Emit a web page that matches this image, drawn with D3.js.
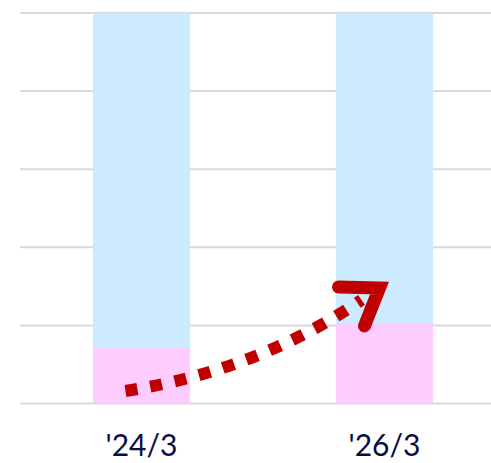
<!DOCTYPE html>
<html>
<head>
<meta charset="utf-8">
<script src="https://cdn.jsdelivr.net/npm/d3@7"></script>
<style>
  body { margin: 0; background: #fff; }
  svg { display: block; }
</style>
</head>
<body>
<svg width="491" height="463"></svg>
<script>
// chart data
var categories = ["'24/3", "'26/3"];
var pinkValues = [0.71, 1.03];
var blueValues = [4.29, 3.97];
var yTicks = [0, 1, 2, 3, 4, 5];

// annotation arrow, in data units (category + value)
var arrowFrom = {cat: "'24/3", dx: -16, value: 0.16};
var arrowVia  = {cat: "'24/3", dx: 118, value: 0.43};
var arrowTo   = {cat: "'26/3", dx: -5, value: 1.48};

var svg = d3.select("svg");
var width = +svg.attr("width");
var height = +svg.attr("height");

var margin = {top: 13, left: 20, bottom: 59.5};

var x = d3.scaleBand()
    .domain(categories)
    .range([margin.left, 506])
    .paddingInner(0.6)
    .paddingOuter(0.3);

var y = d3.scaleLinear()
    .domain([0, 5])
    .range([height - margin.bottom, margin.top]);

// gridlines
svg.append("g")
    .selectAll("line")
    .data(yTicks)
    .enter().append("line")
        .attr("x1", margin.left)
        .attr("x2", width)
        .attr("y1", function(d) { return y(d); })
        .attr("y2", function(d) { return y(d); })
        .attr("stroke", "#d9d9d9")
        .attr("stroke-width", 2);

// stacked bars
var stackData = categories.map(function(c, i) {
    return {cat: c, pink: pinkValues[i], blue: blueValues[i]};
});
var series = d3.stack().keys(["pink", "blue"])(stackData);
var colors = {pink: "#ffccff", blue: "#cdebff"};

svg.append("g")
    .selectAll("g")
    .data(series)
    .enter().append("g")
        .attr("fill", function(s) { return colors[s.key]; })
    .selectAll("rect")
    .data(function(s) { return s; })
    .enter().append("rect")
        .attr("x", function(d) { return x(d.data.cat); })
        .attr("width", x.bandwidth())
        .attr("y", function(d) { return y(d[1]); })
        .attr("height", function(d) { return y(d[0]) - y(d[1]); });

// category labels
var xAxis = svg.append("g")
    .attr("transform", "translate(0," + (height - margin.bottom) + ")")
    .call(d3.axisBottom(x).tickSize(0).tickPadding(31));
xAxis.select(".domain").remove();
xAxis.selectAll("text")
    .attr("font-family", "Lato, 'Open Sans', sans-serif")
    .attr("font-size", 30)
    .attr("fill", "#0c0c44");

// dotted arrow
var px = function(p) { return x(p.cat) + x.bandwidth() / 2 + p.dx; };
var py = function(p) { return y(p.value); };

var shaftEnd = {x: px(arrowTo) - 18, y: py(arrowTo) + 12};
var path = d3.path();
path.moveTo(px(arrowFrom), py(arrowFrom));
path.quadraticCurveTo(px(arrowVia), py(arrowVia), shaftEnd.x, shaftEnd.y);

svg.append("path")
    .attr("d", path.toString())
    .attr("fill", "none")
    .attr("stroke", "#c00000")
    .attr("stroke-width", 12)
    .attr("stroke-dasharray", "12,13");

var tipX = px(arrowTo), tipY = py(arrowTo);
svg.append("path")
    .attr("d", "M" + (tipX - 41) + "," + (tipY - 1) +
               "L" + tipX + "," + tipY +
               "L" + (tipX - 15) + "," + (tipY + 38))
    .attr("fill", "none")
    .attr("stroke", "#c00000")
    .attr("stroke-width", 13)
    .attr("stroke-linecap", "round")
    .attr("stroke-linejoin", "miter");
</script>
</body>
</html>
